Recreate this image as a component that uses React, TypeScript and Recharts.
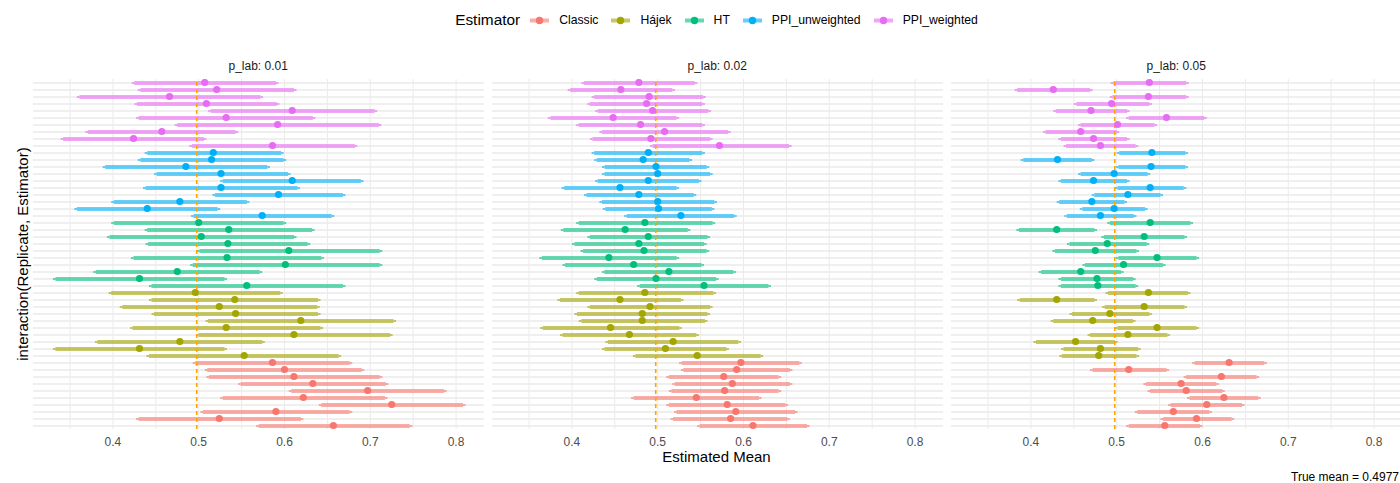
import React from "react";
import {
  ComposedChart,
  Bar,
  Scatter,
  XAxis,
  YAxis,
  CartesianGrid,
  ReferenceLine,
} from "recharts";

const estimators = ["Classic", "Hájek", "HT", "PPI_unweighted", "PPI_weighted"];
const colors = ["#F8766D", "#A3A500", "#00BF7D", "#00B0F6", "#E76BF3"];
const replicates = [1, 2, 3, 4, 5, 6, 7, 8, 9, 10];
const panelLabels = ["p_lab: 0.01", "p_lab: 0.02", "p_lab: 0.05"];
const trueMean = 0.4977;
const xTicks = [0.35, 0.4, 0.45, 0.5, 0.55, 0.6, 0.65, 0.7, 0.75, 0.8];
const xTickLabels = ["", "0.4", "", "0.5", "", "0.6", "", "0.7", "", "0.8"];
const xDomain = [0.3068, 0.8326];

// each block: replicate 1..10, estimators in order Classic, Hájek, HT, PPI_unweighted, PPI_weighted
// p_lab 0.01
const est01 = [
  0.657, 0.524, 0.590, 0.725, 0.622, 0.697, 0.633, 0.611, 0.600, 0.586,
  0.553, 0.431, 0.478, 0.611, 0.532, 0.619, 0.543, 0.524, 0.542, 0.496,
  0.556, 0.431, 0.475, 0.601, 0.533, 0.605, 0.534, 0.503, 0.535, 0.500,
  0.574, 0.440, 0.478, 0.593, 0.526, 0.609, 0.526, 0.485, 0.515, 0.517,
  0.586, 0.424, 0.457, 0.592, 0.532, 0.609, 0.509, 0.466, 0.521, 0.507,
];
const lo01 = [
  0.567, 0.427, 0.502, 0.640, 0.525, 0.605, 0.546, 0.509, 0.507, 0.493,
  0.439, 0.330, 0.379, 0.497, 0.420, 0.508, 0.445, 0.408, 0.442, 0.395,
  0.442, 0.330, 0.377, 0.490, 0.421, 0.498, 0.438, 0.393, 0.437, 0.398,
  0.491, 0.355, 0.398, 0.516, 0.435, 0.525, 0.448, 0.388, 0.429, 0.437,
  0.489, 0.339, 0.368, 0.472, 0.427, 0.511, 0.425, 0.358, 0.429, 0.422,
];
const hi01 = [
  0.749, 0.622, 0.679, 0.811, 0.720, 0.789, 0.721, 0.714, 0.693, 0.679,
  0.666, 0.533, 0.577, 0.726, 0.645, 0.730, 0.642, 0.641, 0.642, 0.598,
  0.671, 0.533, 0.574, 0.714, 0.646, 0.714, 0.630, 0.614, 0.635, 0.602,
  0.658, 0.525, 0.559, 0.671, 0.618, 0.692, 0.607, 0.583, 0.602, 0.599,
  0.685, 0.509, 0.546, 0.713, 0.636, 0.708, 0.594, 0.575, 0.614, 0.593,
];

// p_lab 0.02
const est02 = [
  0.611, 0.585, 0.591, 0.581, 0.545, 0.578, 0.587, 0.577, 0.592, 0.597,
  0.546, 0.509, 0.518, 0.467, 0.445, 0.482, 0.482, 0.491, 0.456, 0.485,
  0.554, 0.498, 0.513, 0.472, 0.443, 0.484, 0.478, 0.489, 0.462, 0.485,
  0.527, 0.501, 0.500, 0.478, 0.456, 0.489, 0.500, 0.498, 0.483, 0.489,
  0.572, 0.492, 0.508, 0.480, 0.448, 0.494, 0.487, 0.490, 0.457, 0.478,
];
const lo02 = [
  0.546, 0.515, 0.519, 0.510, 0.469, 0.513, 0.517, 0.510, 0.527, 0.525,
  0.471, 0.435, 0.439, 0.386, 0.363, 0.408, 0.403, 0.418, 0.383, 0.405,
  0.476, 0.426, 0.435, 0.389, 0.362, 0.410, 0.400, 0.418, 0.387, 0.405,
  0.461, 0.436, 0.432, 0.414, 0.388, 0.427, 0.435, 0.435, 0.426, 0.423,
  0.491, 0.421, 0.432, 0.405, 0.372, 0.427, 0.418, 0.423, 0.395, 0.411,
];
const hi02 = [
  0.677, 0.654, 0.663, 0.652, 0.621, 0.644, 0.657, 0.644, 0.657, 0.668,
  0.623, 0.583, 0.597, 0.548, 0.528, 0.558, 0.561, 0.564, 0.530, 0.568,
  0.632, 0.571, 0.591, 0.554, 0.525, 0.560, 0.557, 0.561, 0.538, 0.567,
  0.592, 0.566, 0.569, 0.545, 0.525, 0.551, 0.564, 0.560, 0.540, 0.555,
  0.656, 0.564, 0.585, 0.555, 0.525, 0.562, 0.555, 0.556, 0.520, 0.546,
];

// p_lab 0.05
const est05 = [
  0.556, 0.593, 0.566, 0.605, 0.625, 0.581, 0.575, 0.622, 0.514, 0.631,
  0.479, 0.481, 0.452, 0.513, 0.547, 0.472, 0.492, 0.532, 0.430, 0.537,
  0.478, 0.477, 0.458, 0.508, 0.547, 0.475, 0.489, 0.532, 0.430, 0.539,
  0.481, 0.497, 0.471, 0.513, 0.539, 0.473, 0.497, 0.540, 0.431, 0.541,
  0.481, 0.473, 0.458, 0.501, 0.558, 0.470, 0.494, 0.537, 0.426, 0.538,
];
const lo05 = [
  0.511, 0.551, 0.521, 0.560, 0.582, 0.536, 0.531, 0.578, 0.469, 0.588,
  0.433, 0.435, 0.403, 0.466, 0.498, 0.423, 0.445, 0.483, 0.384, 0.487,
  0.432, 0.432, 0.409, 0.460, 0.499, 0.425, 0.442, 0.482, 0.383, 0.489,
  0.439, 0.457, 0.430, 0.471, 0.498, 0.432, 0.455, 0.499, 0.388, 0.500,
  0.438, 0.432, 0.414, 0.455, 0.511, 0.426, 0.450, 0.492, 0.381, 0.493,
];
const hi05 = [
  0.600, 0.637, 0.611, 0.649, 0.668, 0.626, 0.619, 0.666, 0.561, 0.675,
  0.526, 0.528, 0.501, 0.562, 0.596, 0.522, 0.541, 0.582, 0.477, 0.586,
  0.525, 0.522, 0.508, 0.557, 0.596, 0.526, 0.538, 0.582, 0.477, 0.589,
  0.523, 0.536, 0.512, 0.554, 0.581, 0.515, 0.539, 0.583, 0.474, 0.583,
  0.525, 0.515, 0.503, 0.547, 0.605, 0.515, 0.541, 0.584, 0.472, 0.584,
];

const panelData = [
  [est01, lo01, hi01],
  [est02, lo02, hi02],
  [est05, lo05, hi05],
];

const FONT = "'Liberation Sans', Arial, Helvetica, sans-serif";

function buildRows(est: number[], lo: number[], hi: number[]) {
  const rows: any[] = [];
  estimators.forEach((name, e) => {
    replicates.forEach((rep, r) => {
      const i = e * 10 + r;
      rows.push({
        row: `${rep}.${name}`,
        estimator: name,
        color: colors[e],
        est: est[i],
        range: [lo[i], hi[i]],
      });
    });
  });
  return rows;
}

// thick range line with thin tips, like ggplot pointrange + errorbar
const RangeShape = (props: any) => {
  const { x, y, width, height, payload } = props;
  if (width == null || isNaN(width)) return null;
  const cy = y + height / 2;
  const tip = 2.5;
  return (
    <g fill={payload.color} fillOpacity={0.6}>
      <rect x={x} y={cy - 1} width={tip} height={2} />
      <rect x={x + tip} y={cy - 2} width={Math.max(width - 2 * tip, 0)} height={4} />
      <rect x={x + width - tip} y={cy - 1} width={tip} height={2} />
    </g>
  );
};

// horizontal major gridline through every category row
const RowLine = (props: any) => {
  const { x, y, width, height } = props;
  if (width == null || isNaN(width)) return null;
  const cy = y + height / 2;
  return <rect x={x} y={cy - 0.8} width={width} height={1.6} fill="#EBEBEB" />;
};

const PointShape = (props: any) => {
  const { cx, cy, payload } = props;
  return <circle cx={cx} cy={cy} r={3.6} fill={payload.color} />;
};

function Panel({ idx }: { idx: number }) {
  const [est, lo, hi] = panelData[idx];
  const rows = buildRows(est, lo, hi);
  return (
    <ComposedChart
      width={451}
      height={374}
      data={rows}
      layout="vertical"
      margin={{ top: 0, right: 0, bottom: 0, left: 0 }}
    >
      <CartesianGrid horizontal={false} syncWithTicks stroke="#EBEBEB" strokeWidth={1} />
      <XAxis
        type="number"
        domain={xDomain}
        ticks={xTicks}
        interval={0}
        tickFormatter={(v: number) => xTickLabels[xTicks.indexOf(v)] ?? ""}
        axisLine={false}
        tickLine={false}
        height={24}
        tick={{ fill: "#4D4D4D", fontSize: 12, fontFamily: FONT }}
      />
      <YAxis
        type="category"
        dataKey="row"
        reversed
        interval={0}
        width={0}
        tick={false}
        axisLine={false}
        tickLine={false}
      />
      <Bar
        dataKey="range"
        barSize={4}
        background={<RowLine />}
        shape={<RangeShape />}
        isAnimationActive={false}
      />
      <ReferenceLine
        x={trueMean}
        stroke="#FFA500"
        strokeWidth={1.6}
        strokeDasharray="4 3"
      />
      <Scatter dataKey="est" shape={<PointShape />} isAnimationActive={false} />
    </ComposedChart>
  );
}

function LegendKey({ color }: { color: string }) {
  return (
    <svg width={19} height={17} style={{ display: "block" }}>
      <rect x={0} y={6.5} width={19} height={4} fill={color} fillOpacity={0.6} />
      <circle cx={9.5} cy={8.5} r={3.7} fill={color} />
    </svg>
  );
}

export default function App() {
  const panelLeft = [32.7, 491.7, 950.7];
  return (
    <div
      style={{
        position: "absolute",
        left: 0,
        top: 0,
        width: 1400,
        height: 483,
        background: "#fff",
        fontFamily: FONT,
        overflow: "hidden",
      }}
    >
      {/* legend */}
      <div
        style={{
          position: "absolute",
          left: 33,
          width: 1367,
          top: 11,
          height: 18,
          display: "flex",
          justifyContent: "center",
          alignItems: "center",
        }}
      >
        <span style={{ fontSize: 15.4, color: "#000", marginRight: 10 }}>Estimator</span>
        {estimators.map((name, i) => (
          <div
            key={name}
            style={{ display: "flex", alignItems: "center", marginRight: i < 4 ? 13 : 0 }}
          >
            <LegendKey color={colors[i]} />
            <span style={{ fontSize: 12.2, color: "#000", marginLeft: 10 }}>{name}</span>
          </div>
        ))}
      </div>

      {/* strip labels */}
      {panelLabels.map((lab, i) => (
        <div
          key={lab}
          style={{
            position: "absolute",
            left: panelLeft[i],
            width: 451,
            top: 59,
            textAlign: "center",
            fontSize: 12,
            color: "#1A1A1A",
          }}
        >
          {lab}
        </div>
      ))}

      {/* panels */}
      {panelLabels.map((lab, i) => (
        <div key={lab} style={{ position: "absolute", left: panelLeft[i], top: 79.2 }}>
          <Panel idx={i} />
        </div>
      ))}

      {/* y title */}
      <div
        style={{
          position: "absolute",
          left: 21.5,
          top: 254,
          transform: "translate(-50%, -50%) rotate(-90deg)",
          whiteSpace: "nowrap",
          fontSize: 15,
          color: "#000",
        }}
      >
        interaction(Replicate, Estimator)
      </div>

      {/* x title */}
      <div
        style={{
          position: "absolute",
          left: 33,
          width: 1367,
          top: 448,
          textAlign: "center",
          fontSize: 15,
          color: "#000",
        }}
      >
        Estimated Mean
      </div>

      {/* caption */}
      <div
        style={{
          position: "absolute",
          right: 1,
          top: 470,
          fontSize: 12,
          color: "#000",
        }}
      >
        True mean = {trueMean}
      </div>
    </div>
  );
}
